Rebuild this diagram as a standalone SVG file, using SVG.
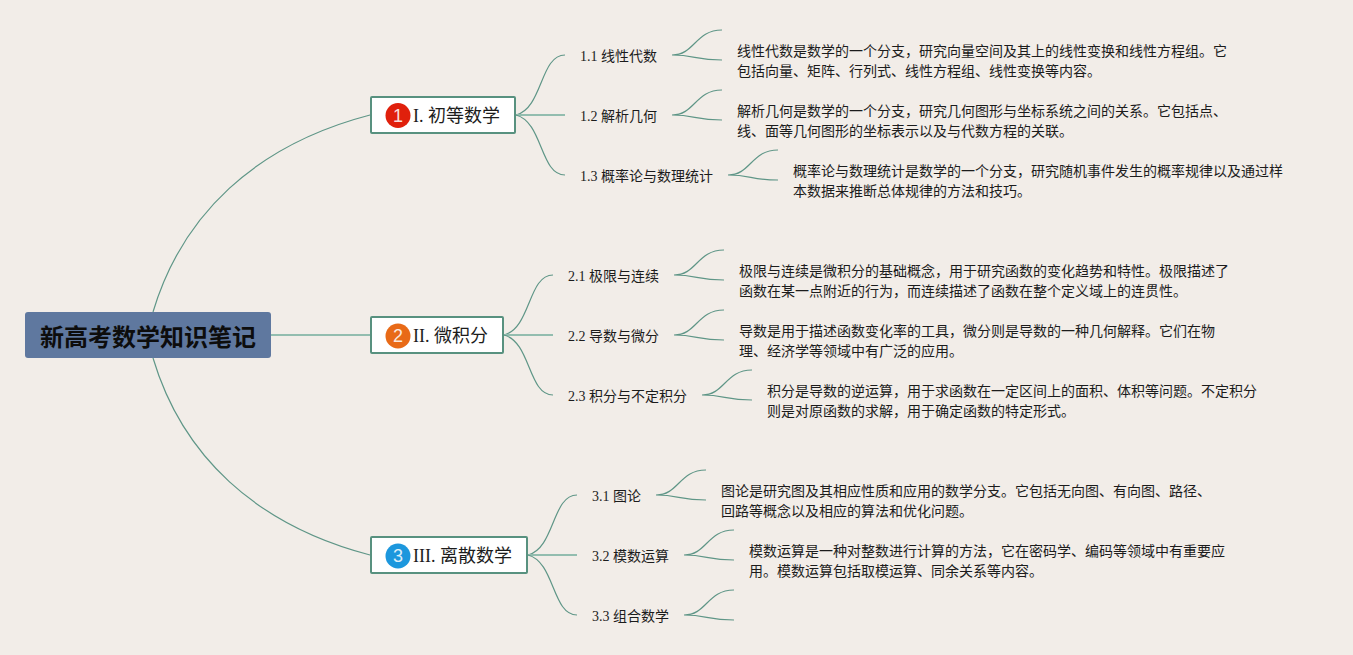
<svg xmlns="http://www.w3.org/2000/svg" width="1353" height="655" viewBox="0 0 1353 655">
<style>
text{font-family:"Liberation Serif","Noto Sans CJK SC",serif;fill:#1c1c1c}
.sub{font-size:14px}
.desc{font-size:14px}
.t{font-size:18px}
.c{fill:none;stroke:#5f9687;stroke-width:1.2}
.s{fill:none;stroke:#93bdaf;stroke-width:2}
.box{fill:#fff;stroke:#58917f;stroke-width:2}
.n{font-family:"Liberation Sans",sans-serif;font-size:18px;fill:#fff;text-anchor:middle;opacity:.85}
</style>
<rect width="1353" height="655" fill="#f2ede8"/>
<g id="connectors">
<path class="c" d="M153 312C182 215 255 145 370 115"/>
<path class="c" d="M153 358C182 455 255 525 370 555"/>
<path class="s" d="M271 335H370"/>
<path class="c" d="M516 115C543 108 540 55 565 55"/><path class="s" d="M516 115H565"/><path class="c" d="M516 115C543 122 540 175 565 175"/>
<path class="c" d="M504 335C531 328 528 275 553 275"/><path class="s" d="M504 335H553"/><path class="c" d="M504 335C531 342 528 395 553 395"/>
<path class="c" d="M528 555C555 548 552 495 577 495"/><path class="s" d="M528 555H577"/><path class="c" d="M528 555C555 562 552 615 577 615"/>
<path class="c" d="M672 55C695 55 695 30 722 30M672 55C695 55 695 60 722 60"/>
<path class="c" d="M672 115C695 115 695 90 722 90M672 115C695 115 695 120 722 120"/>
<path class="c" d="M728 175C751 175 751 150 778 150M728 175C751 175 751 180 778 180"/>
<path class="c" d="M674 275C697 275 697 250 724 250M674 275C697 275 697 280 724 280"/>
<path class="c" d="M674 335C697 335 697 310 724 310M674 335C697 335 697 340 724 340"/>
<path class="c" d="M702 395C725 395 725 370 752 370M702 395C725 395 725 400 752 400"/>
<path class="c" d="M656 495C679 495 679 470 706 470M656 495C679 495 679 500 706 500"/>
<path class="c" d="M684 555C707 555 707 530 734 530M684 555C707 555 707 560 734 560"/>
<path class="c" d="M684 615C707 615 707 590 734 590M684 615C707 615 707 620 734 620"/>
</g>
<g id="root"><rect x="25" y="312" width="246" height="46" rx="3" fill="#5f789f"/><text x="148" y="346" text-anchor="middle" style="font-family:'Noto Sans CJK SC',sans-serif;font-weight:700;font-size:24px;fill:#0d0d0d">新高考数学知识笔记</text></g>
<g id="n1"><rect class="box" x="371" y="97" width="144" height="36" rx="1"/><circle cx="398" cy="115.500" r="12.500" fill="#e0200c"/><text class="n" x="398" y="122">1</text><text class="t" x="413" y="122">I. 初等数学</text></g>
<g id="n2"><rect class="box" x="371" y="317" width="132" height="36" rx="1"/><circle cx="398" cy="336" r="12.500" fill="#e86a17"/><text class="n" x="398" y="342">2</text><text class="t" x="413" y="342">II. 微积分</text></g>
<g id="n3"><rect class="box" x="371" y="537" width="156" height="36" rx="1"/><circle cx="398" cy="556" r="12.500" fill="#1c97dd"/><text class="n" x="398" y="562">3</text><text class="t" x="413" y="562">III. 离散数学</text></g>
<g id="s11"><text class="sub" x="580" y="61">1.1 线性代数</text></g>
<g id="s12"><text class="sub" x="580" y="121">1.2 解析几何</text></g>
<g id="s13"><text class="sub" x="580" y="181">1.3 概率论与数理统计</text></g>
<g id="s21"><text class="sub" x="568" y="281">2.1 极限与连续</text></g>
<g id="s22"><text class="sub" x="568" y="341">2.2 导数与微分</text></g>
<g id="s23"><text class="sub" x="568" y="401">2.3 积分与不定积分</text></g>
<g id="s31"><text class="sub" x="592" y="501">3.1 图论</text></g>
<g id="s32"><text class="sub" x="592" y="561">3.2 模数运算</text></g>
<g id="s33"><text class="sub" x="592" y="621">3.3 组合数学</text></g>
<g id="d11"><text class="desc" x="737" y="56">线性代数是数学的一个分支，研究向量空间及其上的线性变换和线性方程组。它</text><text class="desc" x="737" y="76">包括向量、矩阵、行列式、线性方程组、线性变换等内容。</text></g>
<g id="d12"><text class="desc" x="737" y="116">解析几何是数学的一个分支，研究几何图形与坐标系统之间的关系。它包括点、</text><text class="desc" x="737" y="136">线、面等几何图形的坐标表示以及与代数方程的关联。</text></g>
<g id="d13"><text class="desc" x="793" y="176">概率论与数理统计是数学的一个分支，研究随机事件发生的概率规律以及通过样</text><text class="desc" x="793" y="196">本数据来推断总体规律的方法和技巧。</text></g>
<g id="d21"><text class="desc" x="739" y="276">极限与连续是微积分的基础概念，用于研究函数的变化趋势和特性。极限描述了</text><text class="desc" x="739" y="296">函数在某一点附近的行为，而连续描述了函数在整个定义域上的连贯性。</text></g>
<g id="d22"><text class="desc" x="739" y="336">导数是用于描述函数变化率的工具，微分则是导数的一种几何解释。它们在物</text><text class="desc" x="739" y="356">理、经济学等领域中有广泛的应用。</text></g>
<g id="d23"><text class="desc" x="767" y="396">积分是导数的逆运算，用于求函数在一定区间上的面积、体积等问题。不定积分</text><text class="desc" x="767" y="416">则是对原函数的求解，用于确定函数的特定形式。</text></g>
<g id="d31"><text class="desc" x="721" y="496">图论是研究图及其相应性质和应用的数学分支。它包括无向图、有向图、路径、</text><text class="desc" x="721" y="516">回路等概念以及相应的算法和优化问题。</text></g>
<g id="d32"><text class="desc" x="749" y="556">模数运算是一种对整数进行计算的方法，它在密码学、编码等领域中有重要应</text><text class="desc" x="749" y="576">用。模数运算包括取模运算、同余关系等内容。</text></g>
</svg>
